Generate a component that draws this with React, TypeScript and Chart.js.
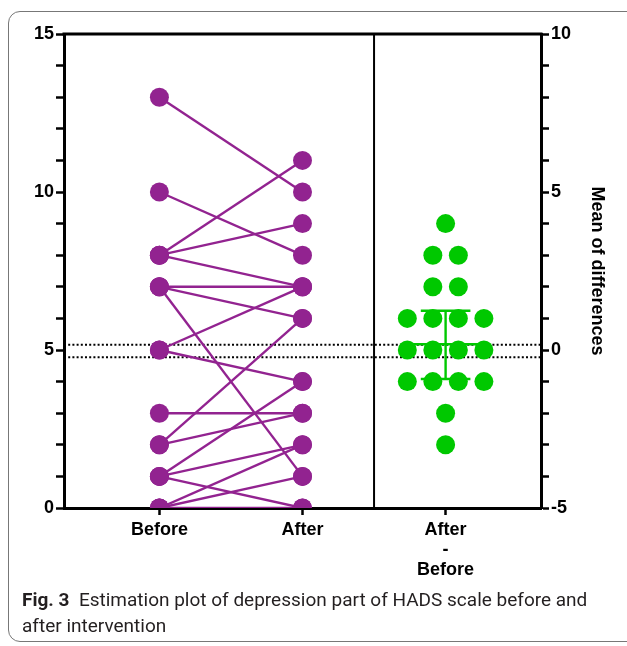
import React, { useEffect, useRef } from "react";
import { Chart, registerables } from "chart.js";

Chart.register(...registerables);

// ---------------- data ----------------
const categories: (string | string[])[] = ["Before", "After", ["After", "-", "Before"]];
const beforeValues = [13, 10, 8, 8, 8, 7, 7, 7, 5, 5, 3, 2, 2, 1, 1, 1, 0, 0, 0];
const afterValues = [10, 8, 11, 9, 7, 7, 6, 1, 7, 4, 3, 6, 3, 4, 2, 0, 2, 1, 0];
const differences = [4, 3, 3, 2, 2, 1, 1, 1, 1, 0, 0, 0, 0, -1, -1, -1, -1, -2, -3];
const meanDifference = 0.18;
const ciLow = -0.92;
const ciHigh = 1.24;
const referenceLines = [5.17, 4.77];
const leftTickLabels = [0, 5, 10, 15];
const rightTickLabels = [-5, 0, 5, 10];
const captionBold = "Fig. 3";
const captionLine1 = "Estimation plot of depression part of HADS scale before and";
const captionLine2 = "after intervention";

// ---------------- layout / style ----------------
const CAT_X = [2, 5, 8];
const DIVIDER_X = 6.5;
const SWARM_STEP = 0.535;
const PURPLE = "#922390";
const GREEN = "#00c800";
const W = 627;
const H = 590;
const FONT = "'Liberation Sans', Arial, sans-serif";

function swarm(values: number[], center: number) {
  const counts: Record<string, number> = {};
  values.forEach((v) => (counts[v] = (counts[v] || 0) + 1));
  const seen: Record<string, number> = {};
  return values.map((v) => {
    const n = counts[v];
    const j = seen[v] || 0;
    seen[v] = j + 1;
    return { x: center + (j - (n - 1) / 2) * SWARM_STEP, y: v };
  });
}

const framePlugin = {
  id: "frame",
  beforeDatasetsDraw(chart: any) {
    const { ctx, chartArea, scales } = chart;
    const { left, right, top, bottom } = chartArea;
    ctx.save();
    ctx.strokeStyle = "#000";
    ctx.lineWidth = 3;
    ctx.beginPath();
    ctx.moveTo(left - 1.5, top);
    ctx.lineTo(right + 1.5, top);
    ctx.stroke();
    ctx.lineWidth = 2;
    const dx = scales.x.getPixelForValue(DIVIDER_X);
    ctx.beginPath();
    ctx.moveTo(dx, top);
    ctx.lineTo(dx, bottom);
    ctx.stroke();
    ctx.restore();
  },
};

function range(a: number, b: number) {
  const r = [];
  for (let v = a; v <= b; v++) r.push({ value: v });
  return r;
}

export default function App() {
  const ref = useRef<HTMLCanvasElement | null>(null);

  useEffect(() => {
    if (!ref.current) return;
    const datasets: any[] = [];

    referenceLines.forEach((v) => {
      datasets.push({
        type: "line",
        data: [
          { x: 0, y: v },
          { x: 10, y: v },
        ],
        borderColor: "#000",
        borderWidth: 2,
        borderDash: [2, 2.2],
        pointRadius: 0,
        yAxisID: "y",
        order: 5,
      });
    });

    beforeValues.forEach((b, i) => {
      datasets.push({
        type: "line",
        data: [
          { x: CAT_X[0], y: b },
          { x: CAT_X[1], y: afterValues[i] },
        ],
        borderColor: PURPLE,
        borderWidth: 2.4,
        pointRadius: 0,
        yAxisID: "y",
        order: 4,
      });
    });

    datasets.push({
      type: "scatter",
      data: beforeValues.map((v) => ({ x: CAT_X[0], y: v })),
      backgroundColor: PURPLE,
      borderWidth: 0,
      pointRadius: 9.5,
      yAxisID: "y",
      order: 3,
    });
    datasets.push({
      type: "scatter",
      data: afterValues.map((v) => ({ x: CAT_X[1], y: v })),
      backgroundColor: PURPLE,
      borderWidth: 0,
      pointRadius: 9.5,
      yAxisID: "y",
      order: 3,
    });

    datasets.push({
      type: "scatter",
      data: swarm(differences, CAT_X[2]),
      backgroundColor: GREEN,
      borderWidth: 0,
      pointRadius: 9.5,
      yAxisID: "y2",
      order: 2,
    });

    const errLines = [
      [
        { x: CAT_X[2], y: ciLow },
        { x: CAT_X[2], y: ciHigh },
      ],
      [
        { x: CAT_X[2] - 0.52, y: ciLow },
        { x: CAT_X[2] + 0.52, y: ciLow },
      ],
      [
        { x: CAT_X[2] - 0.52, y: ciHigh },
        { x: CAT_X[2] + 0.52, y: ciHigh },
      ],
      [
        { x: CAT_X[2] - 0.92, y: meanDifference },
        { x: CAT_X[2] + 0.92, y: meanDifference },
      ],
    ];
    errLines.forEach((d) =>
      datasets.push({
        type: "line",
        data: d,
        borderColor: GREEN,
        borderWidth: 2.4,
        pointRadius: 0,
        yAxisID: "y2",
        order: 1,
      })
    );

    const tickFont = { family: FONT, size: 18, weight: "bold" as const };
    const grid = {
      display: true,
      drawOnChartArea: false,
      drawTicks: true,
      tickLength: 8,
      tickWidth: 2.5,
      tickColor: "#000",
      color: "#000",
    };
    const border = { display: true, width: 3, color: "#000" };

    const chart = new Chart(ref.current, {
      type: "scatter",
      data: { datasets },
      plugins: [framePlugin],
      options: {
        animation: false,
        responsive: false,
        events: [],
        layout: { padding: { top: 34, left: 0, right: 0, bottom: 0 } },
        plugins: { legend: { display: false }, tooltip: { enabled: false } },
        scales: {
          x: {
            type: "linear",
            min: 0,
            max: 10,
            position: "bottom",
            afterBuildTicks: (s: any) => {
              s.ticks = CAT_X.map((v) => ({ value: v }));
            },
            afterFit: (s: any) => {
              s.height = H - 508;
            },
            ticks: {
              autoSkip: false,
              maxRotation: 0,
              padding: 5,
              color: "#000",
              font: { ...tickFont, lineHeight: 1.12 },
              callback: (v: any) => {
                const i = CAT_X.indexOf(Number(v));
                return i >= 0 ? (categories[i] as any) : "";
              },
            },
            grid: { ...grid, tickLength: 7 },
            border,
          },
          y: {
            type: "linear",
            position: "left",
            min: 0,
            max: 15,
            afterBuildTicks: (s: any) => {
              s.ticks = range(0, 15);
            },
            afterFit: (s: any) => {
              s.width = 64;
            },
            ticks: {
              autoSkip: false,
              padding: 2,
              color: "#000",
              font: tickFont,
              callback: (v: any) => (leftTickLabels.includes(Number(v)) ? String(v) : ""),
            },
            grid,
            border,
          },
          y2: {
            type: "linear",
            position: "right",
            min: -5,
            max: 10,
            afterBuildTicks: (s: any) => {
              s.ticks = range(-5, 10);
            },
            afterFit: (s: any) => {
              s.width = W - 541;
            },
            ticks: {
              autoSkip: false,
              padding: 2,
              color: "#000",
              font: tickFont,
              callback: (v: any) => (rightTickLabels.includes(Number(v)) ? String(v) : ""),
            },
            title: {
              display: true,
              text: "Mean of differences",
              color: "#000",
              font: { family: FONT, size: 18, weight: "bold" },
              padding: { top: 19, bottom: 0 },
            },
            grid,
            border,
          },
        },
      } as any,
    });
    return () => chart.destroy();
  }, []);

  return (
    <div style={{ position: "absolute", left: 0, top: 0, width: W, height: 646, overflow: "hidden", background: "#fff" }}>
      <div
        style={{
          position: "absolute",
          left: 8,
          top: 11,
          width: 640,
          height: 631,
          border: "1px solid #777",
          borderRadius: 12,
          boxSizing: "border-box",
        }}
      />
      <canvas ref={ref} width={W} height={H} style={{ position: "absolute", left: 0, top: 0, width: W, height: H }} />
      <div
        style={{
          position: "absolute",
          left: 22,
          top: 587,
          width: 600,
          fontFamily: "'Liberation Sans Narrow', 'Roboto', sans-serif",
          fontSize: 19,
          lineHeight: "26px",
          color: "#231f20",
          whiteSpace: "nowrap",
        }}
      >
        <span style={{ fontWeight: "bold" }}>{captionBold}</span>
        <span>{"\u00a0\u00a0" + captionLine1}</span>
        <br />
        <span>{captionLine2}</span>
      </div>
    </div>
  );
}
